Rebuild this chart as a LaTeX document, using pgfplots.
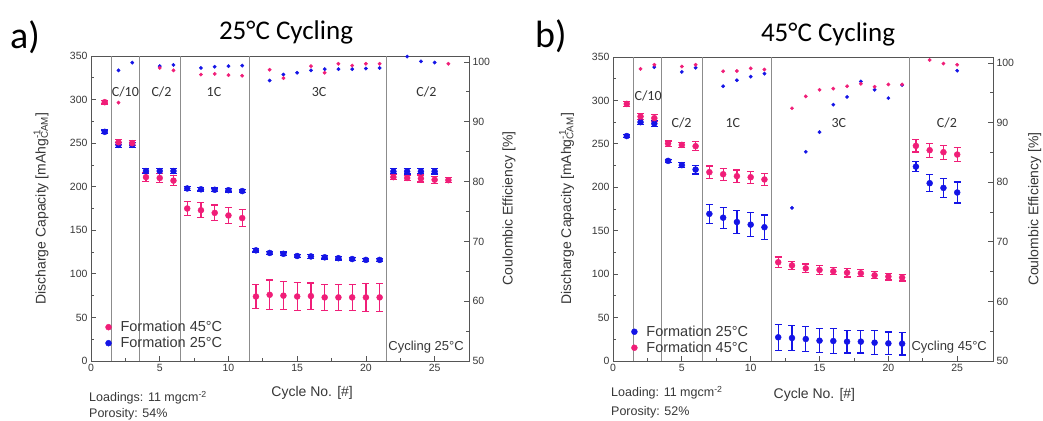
\documentclass[border=0pt]{standalone}
\usepackage{pgfplots}
\pgfplotsset{compat=1.18}
\usepackage{pgfplotstable}
\usepackage{fontspec}
\setmainfont{Liberation Sans}
\newfontfamily\calfont{Carlito}
\definecolor{pk}{RGB}{240,30,120}
\definecolor{bl}{RGB}{20,20,230}
\definecolor{axc}{RGB}{85,85,85}
\definecolor{txc}{RGB}{55,55,55}
\definecolor{vl}{RGB}{140,140,140}

% ---------- panel a (25 C cycling) ----------
\pgfplotstableread{
x y e
1 297 2
2 251 3
3 250 3
4 211 5
5 210 5
6 207 6
7 175 8
8 173 8.5
9 170 9
10 167 9
11 164 9.5
12 74 14
13 76 17
14 75 16
15 74 16
16 74.5 15
17 73 15
18 73 15
19 73 15
20 73 16
21 73 16
22 211 3
23 210 3
24 209.5 4
25 208 4
26 207.5 3
}\capApk
\pgfplotstableread{
x y e
1 263 2
2 248 3
3 248 3
4 218 3
5 218 3
6 218 3
7 198 2
8 197 2
9 196.5 2
10 196 2
11 195 2
12 127 2
13 124 2
14 123 2
15 120.5 2
16 120 2
17 119 2
18 118 2
19 117 2
20 116 2
21 116 2
22 217.5 3
23 217.5 3
24 217.5 3
25 217.5 3
}\capAbl
\pgfplotstableread{
x y
2 93.2
5 99.0
6 98.6
8 97.9
9 98.0
10 97.8
11 97.7
13 98.7
14 97.3
16 99.3
17 98.2
18 99.7
19 99.4
20 99.7
21 99.7
26 99.7
}\ceApk
\pgfplotstableread{
x y
2 98.6
3 99.9
5 99.3
6 99.5
8 99.0
9 99.2
10 99.3
11 99.4
13 96.9
14 97.9
15 98.2
16 98.6
17 98.8
18 98.8
19 98.8
20 98.9
21 99.0
23 100.9
24 100.1
25 99.9
}\ceAbl

% ---------- panel b (45 C cycling) ----------
\pgfplotstableread{
x y e
1 296 3
2 281.5 3
3 279.6 4
4 250.4 3
5 248.8 3
6 247.3 5
7 217.4 7
8 215 7
9 212.8 7
10 211.6 7
11 209 7
12 113.7 6
13 110 5
14 106.7 5
15 104.8 5
16 103.3 4
17 101.7 5
18 101 4
19 98.7 4
20 97.2 4
21 96 4
22 247.7 7
23 242.7 8
24 240.4 8
25 237.7 8
}\capBpk
\pgfplotstableread{
x y e
1 259 2
2 275 3
3 273.4 3
4 230.4 2
5 225.5 3
6 220.4 5
7 169.4 11
8 165 12
9 160 13
10 157 14
11 154 14
12 27.3 15
13 26.5 14
14 25.3 14
15 23.4 14
16 23 14
17 22.3 13
18 22.3 13
19 21.1 14
20 20.3 13
21 20 13
22 223.8 6
23 204.7 10
24 199.3 11
25 194 12
}\capBbl
\pgfplotstableread{
x y
2 99.0
3 99.7
5 99.4
6 99.7
8 98.6
9 98.65
10 99.1
11 98.9
13 92.4
14 94.4
15 95.5
16 95.7
17 96.1
18 96.5
19 96.0
20 96.4
21 96.4
23 100.5
24 99.9
25 99.7
}\ceBpk
\pgfplotstableread{
x y
3 99.3
5 98.5
6 99.2
8 96.1
9 97.1
10 97.7
11 98.2
13 75.7
14 85.1
15 88.4
16 93.0
17 94.3
18 96.9
19 95.5
20 94.1
21 96.3
25 98.7
}\ceBbl

\tikzset{rate/.style={font=\calfont\fontsize{14}{16}\selectfont, text=black!80}}
\pgfplotsset{
  common/.style={
    scale only axis, anchor=south west,
    xmin=0, xmax=27.5,
    axis line style={axc, line width=0.9pt},
    tick style={axc, line width=0.8pt},
    major tick length=5pt, minor tick length=3pt,
    tick label style={font=\fontsize{10.5}{12}\selectfont, text=txc},
    label style={font=\fontsize{14}{16}\selectfont, text=txc},
    /pgf/number format/assume math mode=true,
  },
  errst/.style={/pgfplots/error bars/.cd, y dir=both, y explicit,
    error bar style={/tikz/line width=1.3pt, /tikz/color=#1, /tikz/draw=#1},
    error mark options={/tikz/color=#1, /tikz/draw=#1, rotate=90, mark size=3.5pt, /tikz/line width=1.2pt},
    /pgfplots/.cd},
  cestyle/.style={only marks, mark=*, mark size=1.7pt, forget plot},
  legst/.style={legend style={at={(axis description cs:#1)}, anchor=south west,
    draw=none, fill=none, font=\fontsize{14.5}{17}\selectfont, text=txc,
    row sep=0pt, cells={anchor=west},
    /tikz/every odd column/.append style={column sep=7pt}}},
}

\begin{document}
\begin{tikzpicture}
\useasboundingbox (0pt,0pt) rectangle (1043pt,420pt);

% ================= panel a =================
\begin{axis}[common, at={(91pt,59pt)}, width=378pt, height=305pt,
  ymin=0, ymax=350, ytick={0,50,...,350}, minor y tick num=1,
  xtick={0,5,...,25}, minor x tick num=1,
  xtick pos=bottom, ytick pos=left,
  xlabel={Cycle No. [\#]},
  xlabel style={at={(axis description cs:0.585,-0.105)}, anchor=center},
  ylabel={Discharge Capacity [mAhg\rlap{\textsuperscript{-1}}\textsubscript{CAM}]},
  ylabel style={at={(axis description cs:-0.132,0.5)}, anchor=center},
  legst={0.03,0.025},
]
\pgfplotsinvokeforeach{1.5,3.5,6.5,11.5,21.5}{
  \draw[vl, line width=0.8pt] (axis cs:#1,0) -- (axis cs:#1,350);
}
\addplot[bl, only marks, mark=*, mark size=3pt, forget plot, errst=bl] table[x=x, y=y, y error=e]{\capAbl};
\addplot[pk, only marks, mark=*, mark size=3pt, forget plot, errst=pk] table[x=x, y=y, y error=e]{\capApk};
\addlegendimage{only marks, mark=*, mark size=3pt, color=pk}
\addlegendentry{Formation 45°C}
\addlegendimage{only marks, mark=*, mark size=3pt, color=bl}
\addlegendentry{Formation 25°C}
\node[rate] at (axis cs:2.5,309) {C/10};
\node[rate] at (axis cs:5.13,309) {C/2};
\node[rate] at (axis cs:8.95,309) {1C};
\node[rate] at (axis cs:16.6,309) {3C};
\node[rate] at (axis cs:24.4,309) {C/2};
\node[anchor=west, font=\fontsize{13}{15}\selectfont, text=txc, inner sep=1pt] at (axis cs:21.55,16) {Cycling 25°C};
\end{axis}
\begin{axis}[common, at={(91pt,59pt)}, width=378pt, height=305pt,
  hide x axis, axis y line*=right,
  ymin=50, ymax=101, ytick={50,60,...,100}, minor y tick num=1,
  ylabel={Coulombic Efficiency [\%]},
  ylabel style={at={(axis description cs:1.106,0.5)}, anchor=center, rotate=0},
]
\addplot[color=bl, cestyle] table[x=x, y=y]{\ceAbl};
\addplot[color=pk, cestyle] table[x=x, y=y]{\ceApk};
\end{axis}

% ================= panel b =================
\begin{axis}[common, at={(613pt,59pt)}, width=380pt, height=304pt,
  xmax=27.6,
  ymin=0, ymax=350, ytick={0,50,...,350}, minor y tick num=1,
  xtick={0,5,...,25}, minor x tick num=1,
  xtick pos=bottom, ytick pos=left,
  xlabel={Cycle No. [\#]},
  xlabel style={at={(axis description cs:0.53,-0.11)}, anchor=center},
  ylabel={Discharge Capacity [mAhg\rlap{\textsuperscript{-1}}\textsubscript{CAM}]},
  ylabel style={at={(axis description cs:-0.122,0.5)}, anchor=center},
  legst={0.04,0.01},
]
\pgfplotsinvokeforeach{1.5,3.5,6.5,11.5,21.5}{
  \draw[vl, line width=0.8pt] (axis cs:#1,0) -- (axis cs:#1,350);
}
\addplot[bl, only marks, mark=*, mark size=3pt, forget plot, errst=bl] table[x=x, y=y, y error=e]{\capBbl};
\addplot[pk, only marks, mark=*, mark size=3pt, forget plot, errst=pk] table[x=x, y=y, y error=e]{\capBpk};
\addlegendimage{only marks, mark=*, mark size=3pt, color=bl}
\addlegendentry{Formation 25°C}
\addlegendimage{only marks, mark=*, mark size=3pt, color=pk}
\addlegendentry{Formation 45°C}
\node[rate] at (axis cs:2.55,305) {C/10};
\node[rate] at (axis cs:4.98,274.5) {C/2};
\node[rate] at (axis cs:8.7,274.5) {1C};
\node[rate] at (axis cs:16.4,274.5) {3C};
\node[rate] at (axis cs:24.25,274.5) {C/2};
\node[anchor=west, font=\fontsize{13}{15}\selectfont, text=txc, inner sep=1pt] at (axis cs:21.6,16) {Cycling 45°C};
\end{axis}
\begin{axis}[common, at={(613pt,59pt)}, width=380pt, height=304pt,
  xmax=27.6,
  hide x axis, axis y line*=right,
  ymin=50, ymax=101, ytick={50,60,...,100}, minor y tick num=1,
  ylabel={Coulombic Efficiency [\%]},
  ylabel style={at={(axis description cs:1.11,0.5)}, anchor=center, rotate=0},
]
\addplot[color=bl, cestyle] table[x=x, y=y]{\ceBbl};
\addplot[color=pk, cestyle] table[x=x, y=y]{\ceBpk};
\end{axis}

% ================= titles and notes =================
\node[anchor=west, font=\calfont\fontsize{38}{42}\selectfont, inner sep=0pt] at (10pt,383pt) {a)};
\node[font=\calfont\fontsize{27}{30}\selectfont, inner sep=0pt] at (286pt,388pt) {25°C Cycling};
\node[anchor=west, font=\calfont\fontsize{38}{42}\selectfont, inner sep=0pt] at (535pt,384pt) {b)};
\node[font=\calfont\fontsize{27}{30}\selectfont, inner sep=0pt] at (828pt,386pt) {45°C Cycling};

\node[anchor=west, font=\fontsize{12.5}{14}\selectfont, text=txc, inner sep=0pt] at (89pt,22pt) {Loadings: 11 mgcm\textsuperscript{-2}};
\node[anchor=west, font=\fontsize{12.5}{14}\selectfont, text=txc, inner sep=0pt] at (89pt,6pt) {Porosity: 54\%};
\node[anchor=west, font=\fontsize{12.5}{14}\selectfont, text=txc, inner sep=0pt] at (611pt,27pt) {Loading: 11 mgcm\textsuperscript{-2}};
\node[anchor=west, font=\fontsize{12.5}{14}\selectfont, text=txc, inner sep=0pt] at (611pt,8pt) {Porosity: 52\%};
\end{tikzpicture}
\end{document}
